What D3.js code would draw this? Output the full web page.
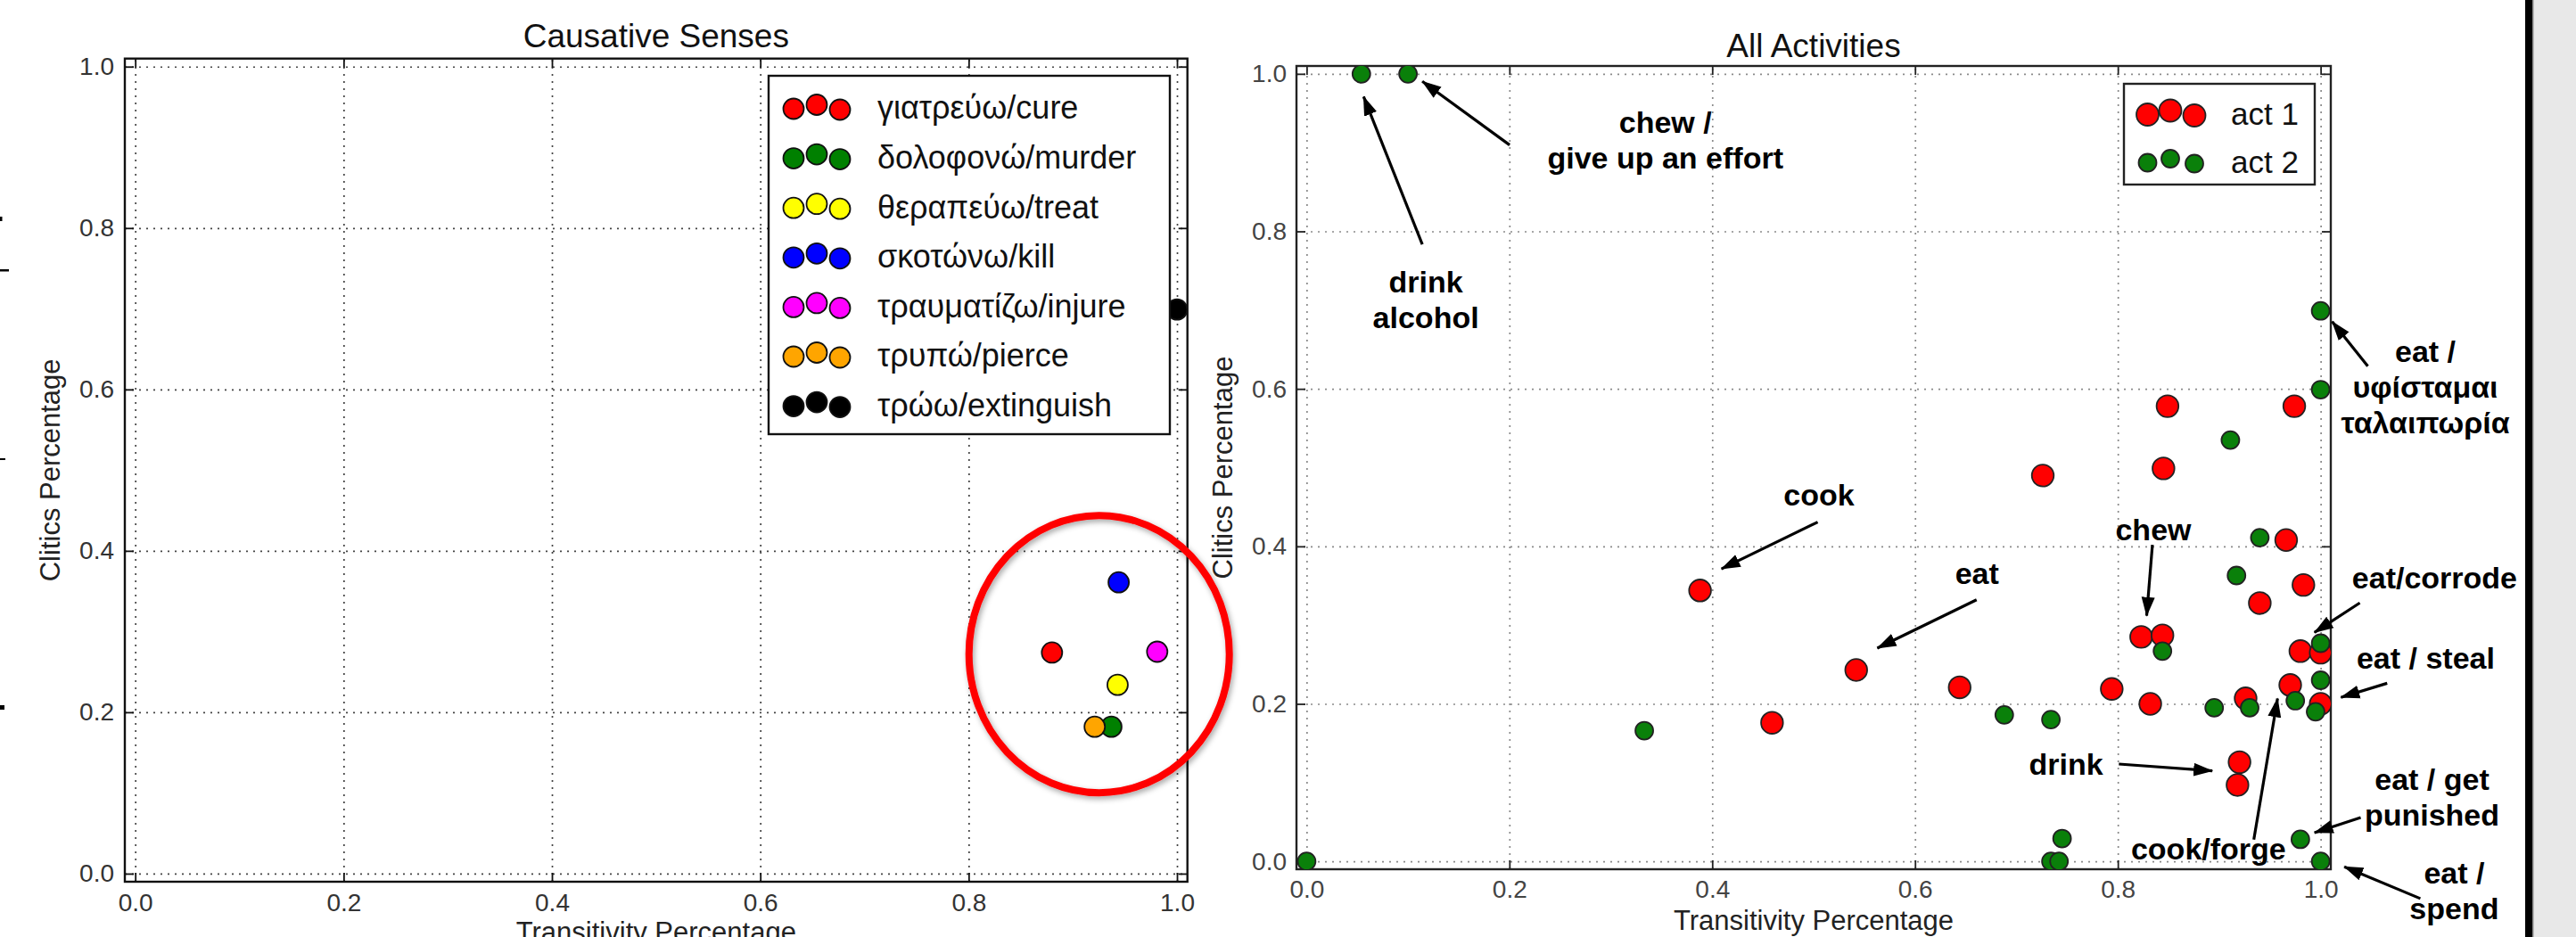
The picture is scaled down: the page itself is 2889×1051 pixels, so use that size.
<!DOCTYPE html>
<html><head><meta charset="utf-8">
<script src="https://cdn.jsdelivr.net/npm/d3@7"></script>
<style>
html,body{margin:0;padding:0;background:#fff;overflow:hidden;}
svg{display:block;font-family:"Liberation Sans",Arial,Helvetica,sans-serif;}
</style></head><body>
<svg id="c" width="2889" height="1051"></svg>
<script>
// ---------------- DATA ----------------
const tickValues = [0, 0.2, 0.4, 0.6, 0.8, 1.0];
const tickFormat = d3.format(".1f");

// Left panel: causative senses
const senseLabels = ["γιατρεύω/cure", "δολοφονώ/murder", "θεραπεύω/treat", "σκοτώνω/kill",
                     "τραυματίζω/injure", "τρυπώ/pierce", "τρώω/extinguish"];
const senseX = [0.880, 0.937, 0.943, 0.944, 0.981, 0.921, 1.000];
const senseY = [0.274, 0.182, 0.234, 0.361, 0.275, 0.182, 0.699];
const senseColors = ["#ff0000", "#008000", "#ffff00", "#0000ff", "#ff00ff", "#ffa500", "#000000"];

// Right panel: all activities
const seriesLabels = ["act 1", "act 2"];
const act1X = [0.388, 0.459, 0.542, 0.644, 0.726, 0.794, 0.823, 0.844, 0.832, 0.845, 0.849,
               0.920, 0.918, 0.926, 0.940, 0.966, 0.970, 0.974, 0.980, 0.983, 1.000, 1.000];
const act1Y = [0.344, 0.176, 0.243, 0.221, 0.490, 0.219, 0.285, 0.287, 0.200, 0.499, 0.578,
               0.126, 0.097, 0.207, 0.328, 0.408, 0.224, 0.578, 0.267, 0.351, 0.265, 0.200];
const act2X = [0.000, 0.054, 0.100, 0.333, 0.688, 0.734, 0.734, 0.742, 0.745, 0.844, 0.895,
               0.917, 0.911, 0.930, 0.940, 0.975, 0.980, 0.995, 1.000, 1.000, 1.000, 1.000, 1.000];
const act2Y = [0.000, 1.000, 1.000, 0.166, 0.186, 0.180, 0.000, 0.000, 0.029, 0.267, 0.195,
               0.363, 0.535, 0.195, 0.411, 0.204, 0.028, 0.190, 0.230, 0.277, 0.599, 0.699, 0.000];
const seriesColors = ["#ff0000", "#0a800a"];

// Annotations on the right panel (data coordinates, like matplotlib annotate)
const annotations = [
  {lines: ["drink", "alcohol"], tx: 0.1176, ty: 0.723, from: [0.1141, 0.7834], to: [0.0562, 0.9711]},
  {lines: ["chew /", "give up an effort"], tx: 0.3538, ty: 0.9246, from: [0.2002, 0.9097], to: [0.1141, 0.9904]},
  {lines: ["cook"], tx: 0.5053, ty: 0.4519, from: [0.504, 0.4308], to: [0.4091, 0.3713]},
  {lines: ["eat"], tx: 0.6611, ty: 0.352, from: [0.6607, 0.3322], to: [0.5628, 0.2707]},
  {lines: ["chew"], tx: 0.835, ty: 0.4082, from: [0.8341, 0.402], to: [0.8284, 0.3118]},
  {lines: ["drink"], tx: 0.7489, ty: 0.1102, from: [0.801, 0.1236], to: [0.8932, 0.1149]},
  {lines: ["cook/forge"], tx: 0.8894, ty: 0.0027, from: [0.9341, 0.0277], to: [0.9575, 0.2069]},
  {lines: ["eat /", "υφίσταμαι", "ταλαιπωρία"], tx: 1.1032, ty: 0.6346, from: [1.0465, 0.6287], to: [1.0114, 0.6853]},
  {lines: ["eat/corrode"], tx: 1.1124, ty: 0.3464, from: [1.0386, 0.3282], to: [0.9939, 0.2907]},
  {lines: ["eat / steal"], tx: 1.1036, ty: 0.2449, from: [1.0656, 0.2262], to: [1.02, 0.2082]},
  {lines: ["eat / get", "punished"], tx: 1.1098, ty: 0.091, from: [1.0395, 0.0556], to: [0.9939, 0.0365]},
  {lines: ["eat /", "spend"], tx: 1.1317, ty: -0.028, from: [1.0983, -0.0472], to: [1.0233, -0.0068]}
];

// ---------------- DRAW ----------------
const svg = d3.select("#c");
svg.append("rect").attr("width", 2889).attr("height", 1051).attr("fill", "#fff");

const defs = svg.append("defs");
defs.append("marker").attr("id", "ah").attr("markerUnits", "userSpaceOnUse")
  .attr("viewBox", "0 -8 22 16").attr("refX", 21).attr("refY", 0)
  .attr("markerWidth", 22).attr("markerHeight", 16).attr("orient", "auto")
  .append("path").attr("d", "M0,-7.5L22,0L0,7.5Z").attr("fill", "#000");
const sh = defs.append("filter").attr("id", "shadow").attr("x", "-20%").attr("y", "-20%").attr("width", "140%").attr("height", "140%");
sh.append("feDropShadow").attr("dx", 2).attr("dy", 3).attr("stdDeviation", 3)
  .attr("flood-color", "#000").attr("flood-opacity", 0.35);

function panel(box, o) {
  const x = d3.scaleLinear().domain([-0.01, 1.01]).range([box.left, box.right]);
  const y = d3.scaleLinear().domain([-0.01, 1.01]).range([box.bottom, box.top]);
  const W = box.right - box.left, H = box.bottom - box.top;
  const g = svg.append("g");

  // grid
  const styleGrid = s => {
    s.select(".domain").remove();
    s.selectAll("line").attr("stroke", o.grid).attr("stroke-width", 1.7).attr("stroke-dasharray", "2,6");
  };
  g.append("g").attr("transform", `translate(0,${box.bottom})`)
    .call(d3.axisBottom(x).tickValues(tickValues).tickSize(-H).tickFormat("")).call(styleGrid);
  g.append("g").attr("transform", `translate(${box.left},0)`)
    .call(d3.axisLeft(y).tickValues(tickValues).tickSize(-W).tickFormat("")).call(styleGrid);

  const styleAx = s => {
    s.select(".domain").remove();
    s.selectAll("line").attr("stroke", o.frame).attr("stroke-width", 1.8);
    s.selectAll("text").attr("font-size", 28).attr("fill", o.tickText)
      .attr("font-family", '"Liberation Sans",Arial,sans-serif');
  };
  g.append("g").attr("transform", `translate(0,${box.bottom})`)
    .call(d3.axisBottom(x).tickValues(tickValues).tickFormat(tickFormat).tickSizeInner(-10).tickSizeOuter(0).tickPadding(o.xPad)).call(styleAx);
  g.append("g").attr("transform", `translate(0,${box.top})`)
    .call(d3.axisTop(x).tickValues(tickValues).tickFormat("").tickSizeInner(-10).tickSizeOuter(0)).call(styleAx);
  g.append("g").attr("transform", `translate(${box.left},0)`)
    .call(d3.axisLeft(y).tickValues(tickValues).tickFormat(tickFormat).tickSizeInner(-10).tickSizeOuter(0).tickPadding(o.yPad)).call(styleAx);
  g.append("g").attr("transform", `translate(${box.right},0)`)
    .call(d3.axisRight(y).tickValues(tickValues).tickFormat("").tickSizeInner(-10).tickSizeOuter(0)).call(styleAx);

  g.append("rect").attr("x", box.left).attr("y", box.top).attr("width", W).attr("height", H)
    .attr("fill", "none").attr("stroke", o.frame).attr("stroke-width", 2.4);

  // titles and labels
  g.append("text").attr("x", (box.left + box.right) / 2).attr("y", o.titleY)
    .attr("text-anchor", "middle").attr("font-size", 37).attr("fill", "#111").text(o.title);
  g.append("text").attr("x", (box.left + box.right) / 2).attr("y", o.xLabelY)
    .attr("text-anchor", "middle").attr("font-size", 31).attr("fill", "#222").text("Transitivity Percentage");
  g.append("text").attr("transform", `translate(${o.yLabelX},${(box.top + box.bottom) / 2}) rotate(-90)`)
    .attr("text-anchor", "middle").attr("font-size", 31).attr("fill", "#222").text("Clitics Percentage");

  const clipId = "clip" + o.id;
  defs.append("clipPath").attr("id", clipId).append("rect")
    .attr("x", box.left).attr("y", box.top).attr("width", W).attr("height", H);
  const plot = g.append("g").attr("clip-path", `url(#${clipId})`);
  return {x, y, g, plot};
}

// ----- Left panel -----
const L = panel({left: 140, top: 65.7, right: 1331.7, bottom: 989},
  {id: "L", title: "Causative Senses", titleY: 52.7, xLabelY: 1056, yLabelX: 67,
   grid: "#444", frame: "#111", tickText: "#333", xPad: 13, yPad: 12});

L.plot.selectAll("circle.s").data(senseX).join("circle")
  .attr("cx", (d) => L.x(d)).attr("cy", (d, i) => L.y(senseY[i])).attr("r", 11.5)
  .attr("fill", (d, i) => senseColors[i]).attr("stroke", "#111").attr("stroke-width", 1.8);

// left legend
const legL = L.g.append("g");
legL.append("rect").attr("x", 862).attr("y", 85).attr("width", 450).attr("height", 402)
  .attr("fill", "#fff").attr("stroke", "#111").attr("stroke-width", 2.4);
const legOff = [1.5, -3, 2.5];
senseLabels.forEach((lab, i) => {
  const cy = 120.5 + i * 55.6;
  [890, 916, 942].forEach((cx, k) => {
    legL.append("circle").attr("cx", cx).attr("cy", cy + legOff[k]).attr("r", 11.5)
      .attr("fill", senseColors[i]).attr("stroke", "#111").attr("stroke-width", 1.8);
  });
  legL.append("text").attr("x", 984).attr("y", cy).attr("dy", "0.36em")
    .attr("font-size", 36).attr("fill", "#111").text(lab);
});

// red highlight ellipse
svg.append("ellipse").attr("cx", 1232.7).attr("cy", 733.7).attr("rx", 146).attr("ry", 155.5)
  .attr("fill", "none").attr("stroke", "#ff0000").attr("stroke-width", 8).attr("filter", "url(#shadow)");

// ----- Right panel -----
const R = panel({left: 1454, top: 74, right: 2614, bottom: 975},
  {id: "R", title: "All Activities", titleY: 64, xLabelY: 1043, yLabelX: 1382,
   grid: "#8a8a8a", frame: "#222", tickText: "#444", xPad: 12, yPad: 11});

R.plot.selectAll("circle.a1").data(act1X).join("circle").attr("class", "a1")
  .attr("cx", d => R.x(d)).attr("cy", (d, i) => R.y(act1Y[i])).attr("r", 12.3)
  .attr("fill", seriesColors[0]).attr("stroke", "#222").attr("stroke-width", 1.8);
R.plot.selectAll("circle.a2").data(act2X).join("circle").attr("class", "a2")
  .attr("cx", d => R.x(d)).attr("cy", (d, i) => R.y(act2Y[i])).attr("r", 10)
  .attr("fill", seriesColors[1]).attr("stroke", "#222").attr("stroke-width", 1.8);

// right legend
const legR = R.g.append("g");
legR.append("rect").attr("x", 2382).attr("y", 94).attr("width", 214).attr("height", 113)
  .attr("fill", "#fff").attr("stroke", "#222").attr("stroke-width", 2.4);
seriesLabels.forEach((lab, i) => {
  const cy = 127 + i * 54;
  [2408.5, 2434, 2461].forEach((cx, k) => {
    legR.append("circle").attr("cx", cx).attr("cy", cy + legOff[k]).attr("r", i === 0 ? 12.5 : 10)
      .attr("fill", seriesColors[i]).attr("stroke", "#222").attr("stroke-width", 1.8);
  });
  legR.append("text").attr("x", 2502).attr("y", cy).attr("dy", "0.36em")
    .attr("font-size", 35).attr("fill", "#111").text(lab);
});

// annotations
const ann = svg.append("g");
annotations.forEach(a => {
  ann.append("line").attr("x1", R.x(a.from[0])).attr("y1", R.y(a.from[1]))
    .attr("x2", R.x(a.to[0])).attr("y2", R.y(a.to[1]))
    .attr("stroke", "#000").attr("stroke-width", 3.2).attr("marker-end", "url(#ah)");
  const t = ann.append("text").attr("x", R.x(a.tx)).attr("y", R.y(a.ty))
    .attr("text-anchor", "middle").attr("font-size", 34).attr("font-weight", "bold").attr("fill", "#000");
  a.lines.forEach((ln, j) => {
    t.append("tspan").attr("x", R.x(a.tx)).attr("dy", j === 0 ? 0 : 40).text(ln);
  });
});

// slide edge decorations
svg.append("rect").attr("x", 2832).attr("y", 0).attr("width", 8).attr("height", 1051).attr("fill", "#000");
svg.append("rect").attr("x", 2840).attr("y", 0).attr("width", 49).attr("height", 1051).attr("fill", "#e8e8e8");
svg.append("rect").attr("x", 2840).attr("y", 0).attr("width", 1.5).attr("height", 1051).attr("fill", "#888");
const edge = svg.append("g").attr("fill", "#000");
edge.append("rect").attr("x", 0).attr("y", 243).attr("width", 2.5).attr("height", 5);
edge.append("rect").attr("x", 0).attr("y", 302).attr("width", 10).attr("height", 2.5);
edge.append("rect").attr("x", 0).attr("y", 514).attr("width", 6).attr("height", 2);
edge.append("rect").attr("x", 0).attr("y", 791).attr("width", 5).attr("height", 5);
</script>
</body></html>
